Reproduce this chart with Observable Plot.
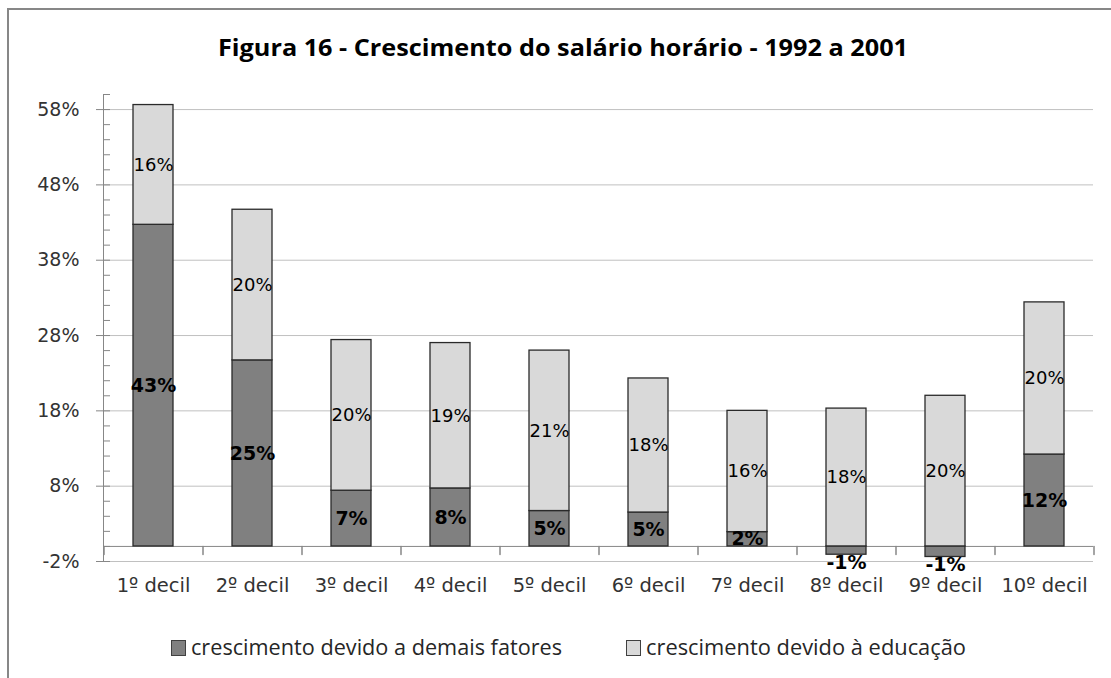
<!DOCTYPE html>
<html>
<head>
<meta charset="utf-8">
<script src="https://cdn.jsdelivr.net/npm/d3@7"></script>
<script src="https://cdn.jsdelivr.net/npm/@observablehq/plot@0.6"></script>
<style>
  body { margin: 0; background: #fff; }
  #wrap { position: relative; width: 1111px; height: 678px; overflow: hidden; background: #fff; }
  #frame { position: absolute; left: 7px; top: 8px; width: 1300px; height: 800px;
           border-left: 2px solid #878787; border-top: 2px solid #878787; }
  #chart { position: absolute; left: 0; top: 0; }
  #title { position: absolute; left: 218px; top: 35px; white-space: nowrap; transform-origin: 0 0;
           font-family: "Open Sans", "Liberation Sans", sans-serif;
           font-weight: bold; font-size: 24px; color: #000; line-height: 1; }
  .leg { position: absolute; top: 637px; display: flex; align-items: center; white-space: nowrap;
         font-family: "Open Sans", "Liberation Sans", sans-serif;
         font-size: 21px; color: #262626; line-height: 1; }
  .sw { width: 13px; height: 14px; border: 1px solid #404040; margin-right: 5px; flex: none; }
  .lt { display: inline-block; transform-origin: 0 50%; }
</style>
</head>
<body>
<div id="wrap">
  <div id="frame"></div>
  <div id="chart"></div>
  <div id="title"></div>
  <div class="leg" id="leg1" style="left:171px"><div class="sw" id="sw1"></div><span class="lt" id="lt1"></span></div>
  <div class="leg" id="leg2" style="left:626px"><div class="sw" id="sw2"></div><span class="lt" id="lt2"></span></div>
</div>
<script>
const titleText = "Figura 16 - Crescimento do salário horário - 1992 a 2001";
const categories = ["1º decil", "2º decil", "3º decil", "4º decil", "5º decil",
                    "6º decil", "7º decil", "8º decil", "9º decil", "10º decil"];
const seriesNames = ["crescimento devido a demais fatores", "crescimento devido à educação"];
const demais   = [42.7, 24.7, 7.4, 7.7, 4.7, 4.5, 1.9, -1.1, -1.4, 12.2];
const educacao = [15.9, 20.0, 20.0, 19.3, 21.3, 17.8, 16.1, 18.3, 20.0, 20.2];
const yTicks = [-2, 8, 18, 28, 38, 48, 58];
const yMinorTicks = [-2, 0, 2, 4, 6, 8, 10, 12, 14, 16, 18, 20, 22, 24, 26, 28, 30,
                     32, 34, 36, 38, 40, 42, 44, 46, 48, 50, 52, 54, 56, 58, 60];
const yDomain = [-2, 60];
const seriesColors = ["#808080", "#d9d9d9"];

// build stacked rows (positives stack up from 0, negatives down from 0)
const rows = [];
categories.forEach((c, i) => {
  const d = demais[i], e = educacao[i];
  rows.push({decil: c, serie: seriesNames[0], v: d, y1: Math.min(0, d), y2: Math.max(0, d)});
  const ey1 = Math.max(0, d);
  rows.push({decil: c, serie: seriesNames[1], v: e, y1: ey1, y2: ey1 + e});
});
rows.forEach(r => r.mid = (r.y1 + r.y2) / 2);

const W = 1111, H = 610, mL = 103, mR = 18, mT = 94, mB = 49;
const padInner = 0.6, padOuter = 0.3;
const step = (W - mL - mR) / (categories.length - padInner + 2 * padOuter);
const lineShape = {draw(ctx, l) { ctx.moveTo(0, 0); ctx.lineTo(0, -l); }};
const axisGray = "#878787";
const font = "DejaVu Sans, sans-serif";

const chart = Plot.plot({
  width: W, height: H,
  marginLeft: mL, marginRight: mR, marginTop: mT, marginBottom: mB,
  style: {fontFamily: font, background: "transparent", overflow: "visible"},
  x: {domain: categories, paddingInner: padInner, paddingOuter: padOuter, label: null},
  y: {domain: yDomain, label: null},
  color: {domain: seriesNames, range: seriesColors},
  marks: [
    Plot.gridY(yTicks, {stroke: "#c0c0c0", strokeOpacity: 1}),
    Plot.frame({anchor: "left", stroke: axisGray}),
    Plot.axisY({ticks: yTicks, tickSize: 7, text: null, label: null, stroke: axisGray}),
    Plot.axisY({ticks: yMinorTicks, tickSize: 7, dx: 7, text: null, label: null, stroke: axisGray}),
    Plot.axisY({ticks: yTicks, tickSize: 0, tickPadding: 24, label: null, fontSize: 19,
                fill: "#333", tickFormat: d => d + "%"}),
    Plot.ruleY([0], {stroke: axisGray}),
    Plot.vector(categories, {x: d => d, y: () => 0, length: 8, rotate: 180, anchor: "start",
                shape: lineShape, stroke: axisGray, dx: -step / 2}),
    Plot.vector([categories[categories.length - 1]], {x: d => d, y: () => 0, length: 8, rotate: 180,
                anchor: "start", shape: lineShape, stroke: axisGray, dx: step / 2}),
    Plot.axisX({tickSize: 0, tickPadding: 17, label: null, fontSize: 19.5, fill: "#333"}),
    Plot.barY(rows, {x: "decil", y1: "y1", y2: "y2", fill: "serie", stroke: "#2a2a2a", strokeWidth: 1.3}),
    Plot.text(rows.filter(r => r.serie === seriesNames[0] && r.v >= 0),
              {x: "decil", y: "mid", text: r => Math.round(r.v) + "%", fontSize: 19,
               fontWeight: "bold", fill: "#000"}),
    Plot.text(rows.filter(r => r.serie === seriesNames[0] && r.v < 0),
              {x: "decil", y: "y1", text: r => Math.round(r.v) + "%", fontSize: 19,
               fontWeight: "bold", fill: "#000", lineAnchor: "top", dy: 1}),
    Plot.text(rows.filter(r => r.serie === seriesNames[1]),
              {x: "decil", y: "mid", text: r => Math.round(r.v) + "%", fontSize: 18, fill: "#000"})
  ]
});
document.getElementById("chart").appendChild(chart);

// title & legend
const t = document.getElementById("title");
t.textContent = titleText;
document.getElementById("lt1").textContent = seriesNames[0];
document.getElementById("lt2").textContent = seriesNames[1];
document.getElementById("sw1").style.background = seriesColors[0];
document.getElementById("sw2").style.background = seriesColors[1];

function fit(el, target) {
  const w = el.getBoundingClientRect().width;
  if (w > 0) el.style.transform = `scaleX(${target / w})`;
}
fit(t, 690);
fit(document.getElementById("lt1"), 371);
fit(document.getElementById("lt2"), 320);
</script>
</body>
</html>
